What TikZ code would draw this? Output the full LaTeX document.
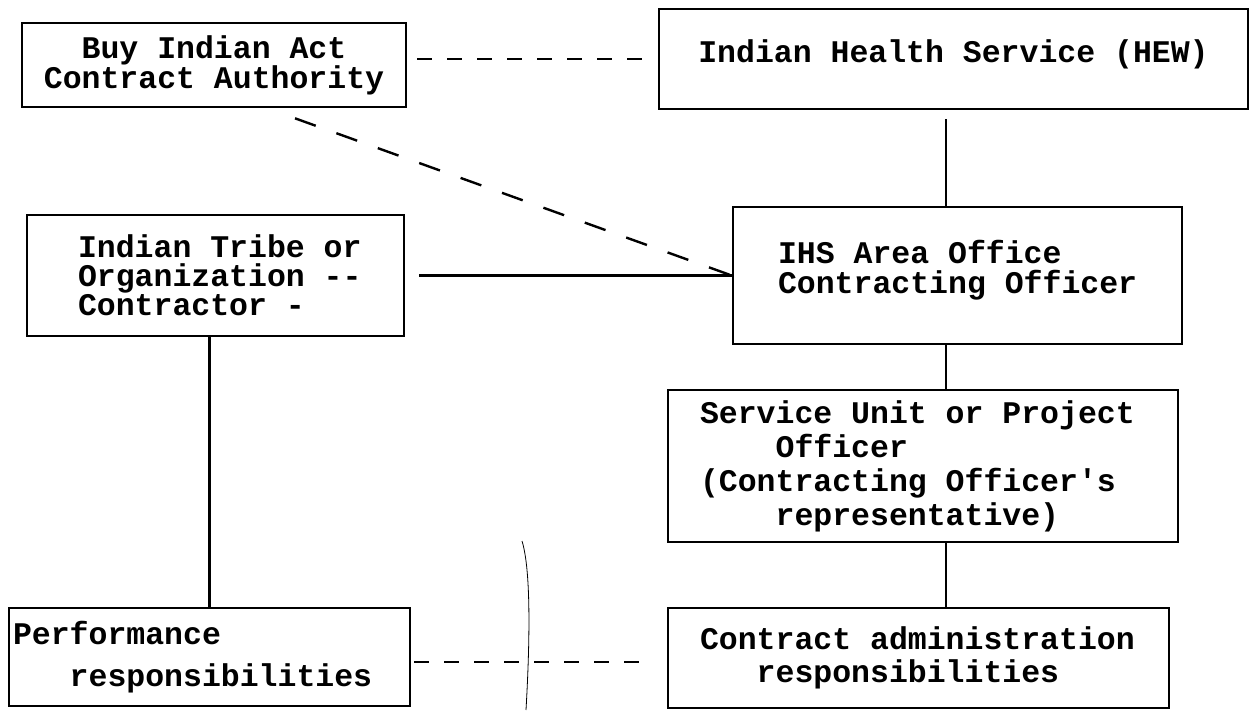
\documentclass[tikz,border=0pt]{standalone}
\usepackage{fontspec}
\setmonofont{Liberation Mono}
\usetikzlibrary{calc}
\newcommand\lowfill[1]{\rule[-#1pt]{0pt}{1pt}}
\newcommand\monosp{\spaceskip=0pt\xspaceskip=0pt\relax}
\begin{document}
\begin{tikzpicture}[x=1pt,y=-1pt,
  box/.style={draw, line width=2.6pt, rectangle, inner ysep=0pt},
  tt/.style={font=\ttfamily\bfseries\fontsize{31.5}{#1}\selectfont},
  conn/.style={line width=2.4pt},
  shortdash/.style={conn, dash pattern=on 15pt off 15pt},
  longdash/.style={conn, dash pattern=on 22pt off 22pt},
]
\useasboundingbox (0,0) rectangle (1250,710);

% boxes
\node[box, tt=30, minimum width=384pt, minimum height=84pt, align=center] (A) at (214,65)
  {Buy Indian Act\\Contract Authority};
\node[box, tt=30, minimum width=589pt, minimum height=100pt, align=center] (B) at (953.5,59)
  {Indian Health Service (HEW)\lowfill{16}};
\node[box, tt=29, minimum width=377pt, minimum height=121pt, inner xsep=51pt, text width=275pt, align=left] (C) at (215.5,275.5)
  {\monosp\mbox{Indian Tribe or}\\\mbox{Organization --}\\\mbox{Contractor -}};
\node[box, tt=30, minimum width=449pt, minimum height=137pt, inner xsep=45pt, text width=359pt, align=left] (D) at (957.5,275.5)
  {\monosp\mbox{IHS Area Office}\\\mbox{Contracting Officer}\lowfill{18}};
\node[box, tt=34, minimum width=510pt, minimum height=152pt, inner xsep=32pt, text width=446pt, align=left] (E) at (923,466)
  {\monosp\mbox{Service Unit or Project}\\\phantom{xxxx}Officer\\\mbox{(Contracting Officer's}\\\phantom{xxxx}representative)};
\node[box, tt=33, minimum width=501pt, minimum height=100pt, inner xsep=32pt, text width=437pt, align=left] (F) at (918.5,658)
  {\monosp\mbox{Contract administration}\\\phantom{xxx}responsibilities};
\node[box, tt=42, minimum width=401pt, minimum height=98pt, inner xsep=4pt, text width=393pt, align=left] (G) at (209.5,657)
  {\monosp Performance\\\phantom{xxx}responsibilities};

\coordinate (spine) at (946,0);

% connectors
\draw[shortdash, shorten <=10pt, shorten >=6pt] (A.east |- B.west) -- (B.west);
\draw[longdash] ([shift={(81,10)}]A.south) -- (D.west);
\draw[conn, shorten <=14pt] (C.east) -- (D.west);
\draw[conn, shorten <=9pt] (B.south -| spine) -- (D.north -| spine);
\draw[conn] (D.south -| spine) -- (E.north -| spine);
\draw[conn] (E.south -| spine) -- (F.north -| spine);
\draw[conn] (C.south -| G.north) -- (G.north);
\draw[shortdash, shorten <=3pt, shorten >=16pt] ([shift={(0,5)}]G.east) -- ([shift={(0,5)}]G.east -| F.west);

% thin curved mark from the scan
\draw[line width=0.8pt] (522,541) .. controls (531,570) and (530,640) .. (526,710);
\end{tikzpicture}
\end{document}
